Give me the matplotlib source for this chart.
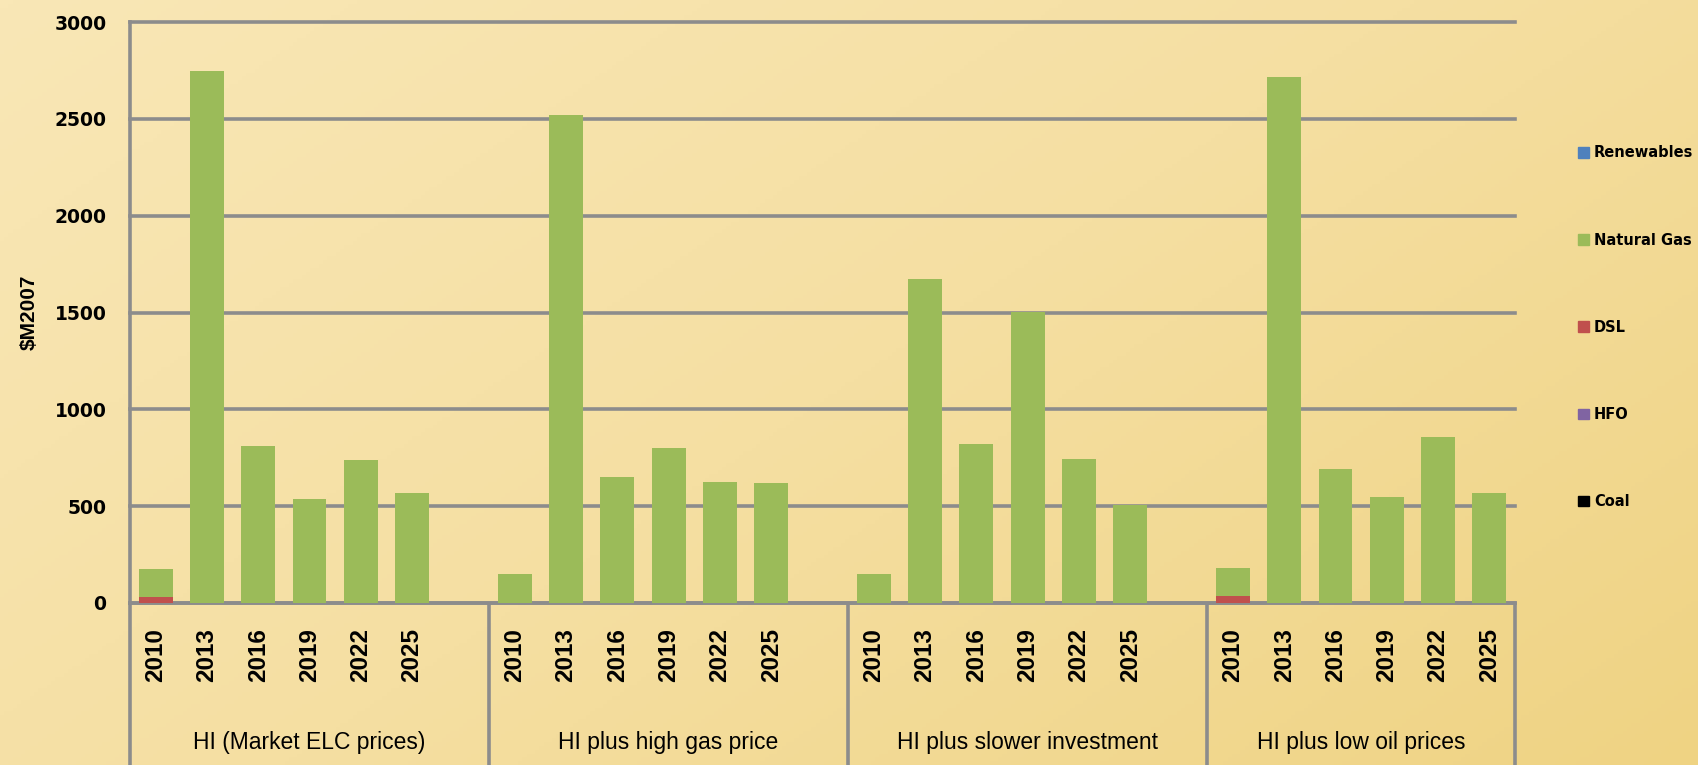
import numpy as np
import matplotlib.pyplot as plt
from matplotlib.colors import LinearSegmentedColormap
from matplotlib.patches import Patch
import matplotlib.transforms as mtransforms

scenarios = [
    "HI (Market ELC prices)",
    "HI plus high gas price",
    "HI plus slower investment",
    "HI plus low oil prices",
]
years = ["2010", "2013", "2016", "2019", "2022", "2025"]

# $M2007 by fuel, one row per scenario
coal = [[0, 0, 0, 0, 0, 0]] * 4
hfo = [[0, 0, 0, 0, 0, 0]] * 4
dsl = [
    [30, 0, 0, 0, 0, 0],
    [0, 0, 0, 0, 0, 0],
    [0, 0, 0, 0, 0, 0],
    [38, 0, 0, 0, 0, 0],
]
natural_gas = [
    [145, 2745, 810, 538, 737, 568],
    [150, 2520, 648, 799, 626, 620],
    [150, 1672, 821, 1503, 743, 508],
    [145, 2718, 693, 547, 855, 566],
]
renewables = [[0, 0, 0, 0, 0, 0]] * 4

COLORS = {
    "Coal": "#000000",
    "HFO": "#8064A2",
    "DSL": "#C0504D",
    "Natural Gas": "#9BBB59",
    "Renewables": "#4F81BD",
    "grid": "#8C8C8C",
}

fig = plt.figure(figsize=(16.99, 7.65), dpi=100)

# warm diagonal background
bg = fig.add_axes([0, 0, 1, 1], zorder=-10)
bg.axis("off")
cmap = LinearSegmentedColormap.from_list("bg", ["#F9E7B6", "#F5DFA2", "#EFD383"])
yy, xx = np.mgrid[0:1:200j, 0:1:400j]
bg.imshow(0.6 * xx + 0.4 * yy, cmap=cmap, aspect="auto", extent=[0, 1, 0, 1],
          origin="upper")
bg.set_xlim(0, 1)
bg.set_ylim(0, 1)

ax = fig.add_axes([0.0765, 0.2118, 0.8152, 0.7594])
ax.set_facecolor("none")

slots = len(years) + 1
pos = np.array([[g * slots + j for j in range(len(years))] for g in range(len(scenarios))])

series = [
    ("Coal", coal),
    ("HFO", hfo),
    ("DSL", dsl),
    ("Natural Gas", natural_gas),
    ("Renewables", renewables),
]
bottom = np.zeros(pos.shape)
for name, vals in series:
    v = np.array(vals, dtype=float)
    ax.bar(pos.ravel(), v.ravel(), bottom=bottom.ravel(), width=0.66,
           color=COLORS[name], linewidth=0, zorder=3)
    bottom += v

ax.set_xlim(-0.5, pos.max() + 0.5)
ax.set_ylim(0, 3000)
ax.set_yticks(range(0, 3001, 500))
ax.set_axisbelow(True)
ax.yaxis.grid(True, color=COLORS["grid"], linewidth=2.6)
for line in ax.get_ygridlines():
    line.set_clip_on(False)
ax.tick_params(axis="y", length=0, pad=17, labelsize=13.5)
for lbl in ax.get_yticklabels():
    lbl.set_fontweight("bold")
ax.set_ylabel("$M2007", fontsize=15, fontweight="bold", family="Liberation Sans")
ax.yaxis.set_label_coords(-0.066, 0.5)

ax.set_xticks(pos.ravel())
ax.set_xticklabels(years * len(scenarios), rotation=90, fontsize=17.5,
                   fontweight="bold", family="Liberation Sans")
ax.tick_params(axis="x", length=0, pad=18)

for side in ["top", "right"]:
    ax.spines[side].set_visible(False)
for side in ["left", "bottom"]:
    ax.spines[side].set_color(COLORS["grid"])
    ax.spines[side].set_linewidth(2.6)

# category boxes under the axis
trans = mtransforms.blended_transform_factory(ax.transData, ax.transAxes)
edges = [g * slots - 0.5 for g in range(len(scenarios))] + [pos.max() + 0.5]
for x in edges:
    ax.plot([x, x], [0, -0.35], transform=trans, color=COLORS["grid"],
            linewidth=2.6, clip_on=False, solid_capstyle="butt")
for g, name in enumerate(scenarios):
    ax.text((edges[g] + edges[g + 1]) / 2, -0.24, name, transform=trans,
            ha="center", va="center", fontsize=16.5, family="Liberation Sans")

handles = [Patch(color=COLORS[n]) for n, _ in series[::-1]]
labels = [n for n, _ in series[::-1]]
fig.legend(handles, labels, loc="upper left", bbox_to_anchor=(0.921, 0.827),
           frameon=False, prop={"weight": "bold", "size": 10.5},
           handlelength=0.75, handleheight=0.75, handletextpad=0.35,
           labelspacing=4.95)

fig.savefig("out.png", dpi=100)
